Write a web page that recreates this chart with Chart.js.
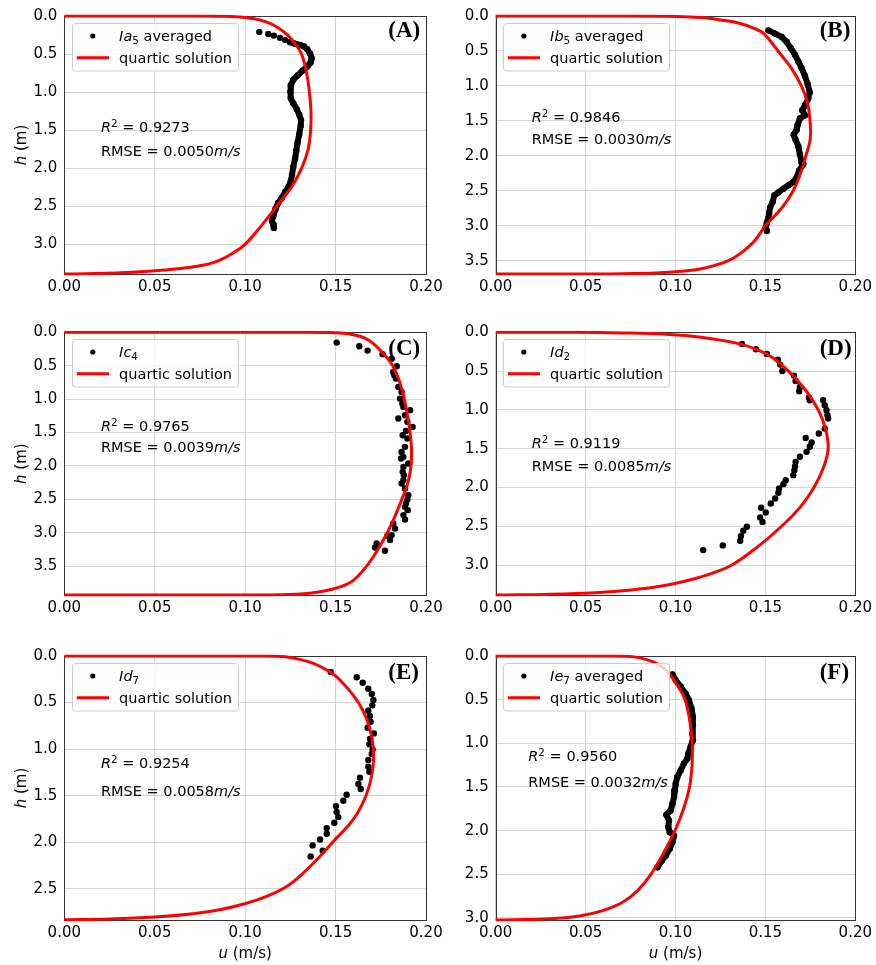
<!DOCTYPE html>
<html>
<head>
<meta charset="utf-8">
<script src="https://cdn.jsdelivr.net/npm/chart.js@4.4.1/dist/chart.umd.min.js"></script>
<style>
  body { margin: 0; background: #fff; width: 876px; height: 965px; position: relative; overflow: hidden; }
  canvas { position: absolute; }
</style>
</head>
<body>
<script>
// ---- data: [u (m/s), h (m)] ----
const measA = [[0.1078,0.210],[0.1128,0.236],[0.1159,0.257],[0.1193,0.287],[0.1220,0.313],[0.1248,0.343],[0.1276,0.364],[0.1303,0.381],[0.1325,0.399],[0.1344,0.437],[0.1359,0.493],[0.1368,0.553],[0.1362,0.609],[0.1344,0.664],[0.1318,0.716],[0.1290,0.780],[0.1266,0.836],[0.1253,0.909],[0.1250,0.994],[0.1253,1.080],[0.1266,1.144],[0.1285,1.221],[0.1299,1.294],[0.1309,1.367],[0.1307,1.444],[0.1299,1.551],[0.1290,1.659],[0.1283,1.766],[0.1276,1.873],[0.1266,1.980],[0.1259,2.087],[0.1252,2.173],[0.1241,2.237],[0.1222,2.310],[0.1202,2.387],[0.1183,2.451],[0.1167,2.537],[0.1156,2.623],[0.1148,2.687],[0.1156,2.739],[0.1159,2.781]];
const fitA = [[0,0],[0.06,0],[0.085,0.003],[0.097,0.012],[0.105,0.035],[0.112,0.08],[0.118,0.15],[0.1235,0.25],[0.1275,0.36],[0.1312,0.5],[0.134,0.75],[0.1355,1.0],[0.1364,1.25],[0.1362,1.5],[0.1348,1.75],[0.1312,2.0],[0.1255,2.25],[0.1173,2.5],[0.1081,2.777],[0.0998,3.0],[0.0934,3.11],[0.086,3.205],[0.0805,3.25],[0.0735,3.285],[0.065,3.312],[0.0555,3.333],[0.045,3.352],[0.034,3.367],[0.023,3.377],[0.012,3.383],[0,3.386]];

const measB = [[0.1517,0.205],[0.1554,0.252],[0.1591,0.299],[0.1618,0.369],[0.1642,0.462],[0.1665,0.555],[0.1683,0.649],[0.1701,0.742],[0.1720,0.859],[0.1735,0.975],[0.1747,1.092],[0.1738,1.185],[0.1720,1.279],[0.1705,1.349],[0.1720,1.419],[0.1692,1.465],[0.1679,1.559],[0.1674,1.629],[0.1657,1.699],[0.1668,1.769],[0.1683,1.862],[0.1692,1.979],[0.1701,2.095],[0.1711,2.118],[0.1687,2.212],[0.1679,2.282],[0.1655,2.375],[0.1628,2.422],[0.1600,2.469],[0.1572,2.524],[0.1550,2.562],[0.1541,2.655],[0.1526,2.739],[0.1521,2.818],[0.1517,2.888],[0.1508,2.958],[0.1502,3.028],[0.1508,3.075]];
const fitB = [[0,0],[0.07,0],[0.095,0.004],[0.108,0.015],[0.117,0.03],[0.126,0.06],[0.135,0.1],[0.143,0.17],[0.149,0.25],[0.157,0.5],[0.1645,0.75],[0.170,1.0],[0.1735,1.25],[0.1748,1.5],[0.175,1.75],[0.1725,2.0],[0.1695,2.25],[0.1655,2.5],[0.159,2.75],[0.150,3.0],[0.1445,3.2],[0.1385,3.35],[0.133,3.45],[0.1275,3.52],[0.1215,3.57],[0.115,3.61],[0.1075,3.64],[0.099,3.66],[0.089,3.675],[0.077,3.684],[0.063,3.689],[0.045,3.69],[0,3.69]];

const measC = [[0.1506,0.154],[0.1631,0.209],[0.1677,0.274],[0.1760,0.329],[0.1810,0.394],[0.1838,0.508],[0.1819,0.593],[0.1825,0.643],[0.1834,0.693],[0.1847,0.817],[0.1865,0.892],[0.1856,0.992],[0.1869,1.066],[0.1875,1.116],[0.1912,1.166],[0.1884,1.241],[0.1847,1.290],[0.1897,1.340],[0.1926,1.415],[0.1889,1.475],[0.1871,1.540],[0.1897,1.589],[0.1884,1.714],[0.1865,1.789],[0.1875,1.863],[0.1862,1.888],[0.1902,1.963],[0.1875,2.013],[0.1871,2.088],[0.1878,2.138],[0.1875,2.212],[0.1865,2.262],[0.1884,2.337],[0.1902,2.436],[0.1897,2.501],[0.1889,2.561],[0.1884,2.611],[0.1899,2.661],[0.1875,2.735],[0.1884,2.800],[0.1819,2.860],[0.1829,2.935],[0.1810,3.034],[0.1786,3.044],[0.1801,3.109],[0.1727,3.159],[0.1718,3.219],[0.1773,3.269]];
const fitC = [[0,0],[0.13,0],[0.145,0.003],[0.153,0.012],[0.1605,0.04],[0.1665,0.09],[0.1709,0.17],[0.1765,0.32],[0.1816,0.5],[0.1855,0.75],[0.188,1.0],[0.1898,1.25],[0.1912,1.5],[0.192,1.75],[0.1917,2.0],[0.190,2.25],[0.1864,2.514],[0.1818,2.816],[0.1763,3.115],[0.1707,3.365],[0.1652,3.564],[0.1597,3.714],[0.1545,3.79],[0.148,3.845],[0.1405,3.885],[0.1325,3.91],[0.124,3.923],[0.113,3.929],[0.1,3.93],[0,3.93]];

const measD = [[0.1370,0.150],[0.1447,0.219],[0.1508,0.279],[0.1569,0.352],[0.1582,0.416],[0.1594,0.498],[0.1659,0.558],[0.1668,0.627],[0.1692,0.704],[0.1688,0.760],[0.1742,0.841],[0.1747,0.876],[0.1821,0.876],[0.1830,0.940],[0.1840,1.004],[0.1845,1.069],[0.1849,1.112],[0.1830,1.240],[0.1797,1.305],[0.1724,1.361],[0.1757,1.421],[0.1747,1.476],[0.1729,1.541],[0.1692,1.605],[0.1668,1.670],[0.1665,1.725],[0.1661,1.777],[0.1655,1.841],[0.1613,1.906],[0.1600,1.957],[0.1576,2.013],[0.1572,2.069],[0.1554,2.142],[0.1530,2.206],[0.1476,2.262],[0.1502,2.322],[0.1471,2.386],[0.1484,2.446],[0.1397,2.506],[0.1377,2.558],[0.1364,2.627],[0.1360,2.687],[0.1263,2.747],[0.1154,2.807]];
const fitD = [[0,0],[0.045,0],[0.07,0.008],[0.0946,0.026],[0.113,0.06],[0.1351,0.146],[0.146,0.23],[0.1535,0.318],[0.1628,0.5],[0.1725,0.75],[0.1794,1.0],[0.1835,1.25],[0.1849,1.5],[0.1822,1.75],[0.177,2.0],[0.1695,2.25],[0.159,2.5],[0.1465,2.75],[0.1314,3.0],[0.121,3.1],[0.11,3.18],[0.099,3.24],[0.087,3.29],[0.074,3.325],[0.06,3.35],[0.045,3.367],[0.028,3.378],[0.012,3.384],[0,3.386]];

const measE = [[0.1473,0.172],[0.1617,0.229],[0.1650,0.287],[0.1681,0.351],[0.1700,0.408],[0.1709,0.473],[0.1703,0.530],[0.1681,0.587],[0.1690,0.645],[0.1694,0.706],[0.1677,0.770],[0.1712,0.831],[0.1690,0.892],[0.1687,0.949],[0.1705,1.003],[0.1700,1.053],[0.1681,1.117],[0.1681,1.189],[0.1687,1.243],[0.1635,1.307],[0.1626,1.375],[0.1639,1.429],[0.1561,1.490],[0.1543,1.554],[0.1502,1.612],[0.1506,1.676],[0.1515,1.730],[0.1493,1.791],[0.1451,1.848],[0.1451,1.909],[0.1414,1.970],[0.1373,2.034],[0.1429,2.092],[0.1362,2.153]];
const fitE = [[0,0],[0.11,0],[0.122,0.008],[0.1303,0.036],[0.1377,0.079],[0.1451,0.15],[0.1524,0.258],[0.1626,0.5],[0.1685,0.75],[0.1709,1.0],[0.1703,1.25],[0.1668,1.5],[0.160,1.75],[0.1496,1.974],[0.1413,2.153],[0.1321,2.332],[0.1229,2.475],[0.1118,2.582],[0.0998,2.661],[0.086,2.725],[0.0713,2.768],[0.0501,2.804],[0.0252,2.825],[0,2.833]];

const measF = [[0.0983,0.210],[0.1001,0.276],[0.1029,0.352],[0.1056,0.429],[0.1075,0.505],[0.1089,0.601],[0.1097,0.697],[0.1097,0.792],[0.1093,0.888],[0.1097,0.964],[0.1084,1.041],[0.1071,1.117],[0.1066,1.175],[0.1047,1.232],[0.1029,1.309],[0.1010,1.385],[0.1001,1.462],[0.0997,1.538],[0.0992,1.615],[0.0983,1.692],[0.0973,1.768],[0.0949,1.818],[0.0964,1.883],[0.0960,1.959],[0.0968,2.017],[0.0992,2.055],[0.0983,2.132],[0.0968,2.208],[0.0946,2.285],[0.0924,2.342],[0.0900,2.419]];
const fitF = [[0,0],[0.065,0],[0.077,0.01],[0.0835,0.038],[0.0909,0.1],[0.0964,0.2],[0.101,0.333],[0.1053,0.5],[0.108,0.75],[0.1093,1.0],[0.1092,1.25],[0.1078,1.5],[0.1045,1.75],[0.0997,2.0],[0.0935,2.25],[0.0863,2.5],[0.0789,2.687],[0.0706,2.82],[0.0595,2.916],[0.0466,2.977],[0.03,3.008],[0.0116,3.02],[0,3.023]];

const depths = [3.386, 3.69, 3.93, 3.386, 2.835, 3.023];
const r2Values = ['0.9273', '0.9846', '0.9765', '0.9119', '0.9254', '0.9560'];
const rmseValues = ['0.0050', '0.0030', '0.0039', '0.0085', '0.0058', '0.0032'];
const letters = ['(A)', '(B)', '(C)', '(D)', '(E)', '(F)'];
const seriesNames = [['Ia', '5', ' averaged'], ['Ib', '5', ' averaged'], ['Ic', '4', ''], ['Id', '2', ''], ['Id', '7', ''], ['Ie', '7', ' averaged']];
const uTicks = { min: 0, max: 0.2, step: 0.05 };
const hStep = 0.5;

// ---- layout ----
const FONT = '"DejaVu Sans", sans-serif';
Chart.defaults.font.family = FONT;
Chart.defaults.font.size = 15;
Chart.defaults.color = '#000';

const cols = [{ left: 0, width: 470, l: 64.3, r: 426 }, { left: 446, width: 430, l: 49.7, r: 411.3 }];
const rows = [{ top: 0, height: 310, t: 11, b: 274 }, { top: 310, height: 320, t: 22.3, b: 285 }, { top: 630, height: 335, t: 26, b: 290 }];

// per panel: text x, R2 baseline, RMSE baseline, letter baseline (px from plot corner)
const notePos = [[36.7, 116, 140, 21], [36, 106, 128, 21], [36.7, 99, 119.5, 23], [36, 115.5, 138.5, 23], [36.7, 111.5, 140, 23], [32.6, 104.5, 130.5, 23]];

const panels = [
  { meas: measA, fit: fitA, trace: true, loose: 5 },
  { meas: measB, fit: fitB, trace: true, loose: 0 },
  { meas: measC, fit: fitC, trace: false, loose: 0 },
  { meas: measD, fit: fitD, trace: false, loose: 0 },
  { meas: measE, fit: fitE, trace: false, loose: 0 },
  { meas: measF, fit: fitF, trace: true, loose: 0 },
];

// draw a run of text pieces: [text, style] where style: '' | 'i' | 'sub' | 'sup'
function runWidth(ctx, runs, size) {
  let w = 0;
  runs.forEach(([t, s]) => {
    const fs = (s === 'sub' || s === 'sup') ? size * 0.72 : size;
    ctx.font = (s === 'i' ? 'italic ' : '') + fs + 'px ' + FONT;
    w += ctx.measureText(t).width;
  });
  return w;
}
function drawRuns(ctx, runs, x, y, size) {
  let cx = x;
  ctx.textBaseline = 'alphabetic';
  ctx.textAlign = 'left';
  runs.forEach(([t, s]) => {
    const small = s === 'sub' || s === 'sup';
    const fs = small ? size * 0.72 : size;
    ctx.font = (s === 'i' ? 'italic ' : '') + fs + 'px ' + FONT;
    const dy = s === 'sub' ? 2.5 : s === 'sup' ? -5 : 0;
    ctx.fillText(t, cx, y + dy);
    cx += ctx.measureText(t).width;
  });
}

function makePanel(p, i) {
  const col = cols[i % 2], row = rows[Math.floor(i / 2)];
  const cv = document.createElement('canvas');
  cv.width = col.width;
  cv.height = row.height;
  cv.style.left = col.left + 'px';
  cv.style.top = row.top + 'px';
  document.body.appendChild(cv);

  const [nx, ny1, ny2, ly] = notePos[i];
  const name = seriesNames[i];

  const decor = {
    id: 'decor',
    beforeDatasetsDraw(chart) {
      const a = chart.chartArea, ctx = chart.ctx;
      ctx.save();
      ctx.strokeStyle = '#333';
      ctx.lineWidth = 1;
      const x0 = Math.round(a.left) + 0.5, y0 = Math.round(a.top) + 0.5;
      ctx.strokeRect(x0, y0, Math.round(a.right) - Math.round(a.left), Math.round(a.bottom) - Math.round(a.top));
      ctx.restore();
    },
    afterDraw(chart) {
      const a = chart.chartArea, ctx = chart.ctx;
      ctx.save();
      // legend box
      const bx = Math.round(a.left + 7.4) + 0.5, by = Math.round(a.top + 6.5) + 0.5;
      ctx.beginPath();
      ctx.roundRect(bx, by, 166, 47.5, 3);
      ctx.fillStyle = 'rgba(255,255,255,0.8)';
      ctx.fill();
      ctx.strokeStyle = '#cccccc';
      ctx.lineWidth = 1;
      ctx.stroke();
      ctx.fillStyle = '#000';
      ctx.beginPath();
      ctx.arc(bx + 20.3, by + 12.5, 2.6, 0, Math.PI * 2);
      ctx.fill();
      ctx.strokeStyle = 'red';
      ctx.lineWidth = 3;
      ctx.beginPath();
      ctx.moveTo(bx + 4.3, by + 34.2);
      ctx.lineTo(bx + 36.6, by + 34.2);
      ctx.stroke();
      ctx.fillStyle = '#000';
      drawRuns(ctx, [[name[0], 'i'], [name[1], 'sub'], [name[2], '']], bx + 46.6, by + 17.5, 14.5);
      drawRuns(ctx, [['quartic solution', '']], bx + 46.6, by + 39, 14.5);

      // fit statistics
      drawRuns(ctx, [['R', 'i'], ['2', 'sup'], [' = ' + r2Values[i], '']], a.left + nx, a.top + ny1, 14.5);
      drawRuns(ctx, [['RMSE = ' + rmseValues[i], ''], ['m/s', 'i']], a.left + nx, a.top + ny2, 14.5);

      // panel letter
      ctx.font = 'bold 23px "Liberation Serif", "Times New Roman", serif';
      ctx.textAlign = 'left';
      ctx.fillText(letters[i], a.left + 324, a.top + ly);

      // axis titles
      if (i % 2 === 0) {
        const runs = [['h', 'i'], [' (m)', '']];
        const w = runWidth(ctx, runs, 15);
        ctx.save();
        ctx.translate(26, (a.top + a.bottom) / 2);
        ctx.rotate(-Math.PI / 2);
        drawRuns(ctx, runs, -w / 2, 0, 15);
        ctx.restore();
      }
      if (i >= 4) {
        const runs = [['u', 'i'], [' (m/s)', '']];
        const w = runWidth(ctx, runs, 15);
        drawRuns(ctx, runs, (a.left + a.right) / 2 - w / 2, a.bottom + 37.5, 15);
      }
      ctx.restore();
    }
  };

  new Chart(cv, {
    type: 'scatter',
    data: {
      datasets: [
        {
          data: p.fit.map(([u, h]) => ({ x: u, y: h })),
          showLine: true,
          borderColor: 'red',
          borderWidth: 3,
          pointRadius: 0,
          tension: 0.4,
          clip: 1.5,
          order: 1
        },
        {
          data: p.meas.map(([u, h]) => ({ x: u, y: h })),
          showLine: p.trace,
          borderColor: '#000',
          borderWidth: 6,
          borderCapStyle: 'round',
          borderJoinStyle: 'round',
          pointRadius: 3.2,
          pointBackgroundColor: '#000',
          pointBorderWidth: 0,
          order: 2,
          segment: {
            borderColor: ctx => ctx.p0DataIndex < p.loose ? 'transparent' : '#000'
          }
        }
      ]
    },
    options: {
      responsive: false,
      animation: false,
      events: [],
      layout: { padding: { left: 0, top: row.t, right: col.width - col.r, bottom: 0 } },
      plugins: { legend: { display: false }, tooltip: { enabled: false } },
      scales: {
        x: {
          type: 'linear',
          min: uTicks.min,
          max: uTicks.max,
          ticks: { stepSize: uTicks.step, callback: v => v.toFixed(2), padding: 4, maxRotation: 0, autoSkip: false },
          grid: { color: '#d6d6d6', drawTicks: false },
          border: { display: false },
          afterFit: s => { s.height = row.height - row.b; }
        },
        y: {
          type: 'linear',
          reverse: true,
          min: 0,
          max: depths[i],
          ticks: { stepSize: hStep, includeBounds: false, callback: v => v.toFixed(1), padding: 7, autoSkip: false },
          grid: { color: '#d6d6d6', drawTicks: false },
          border: { display: false },
          afterFit: s => { s.width = col.l; }
        }
      }
    },
    plugins: [decor]
  });
}

panels.forEach(makePanel);
</script>
</body>
</html>
